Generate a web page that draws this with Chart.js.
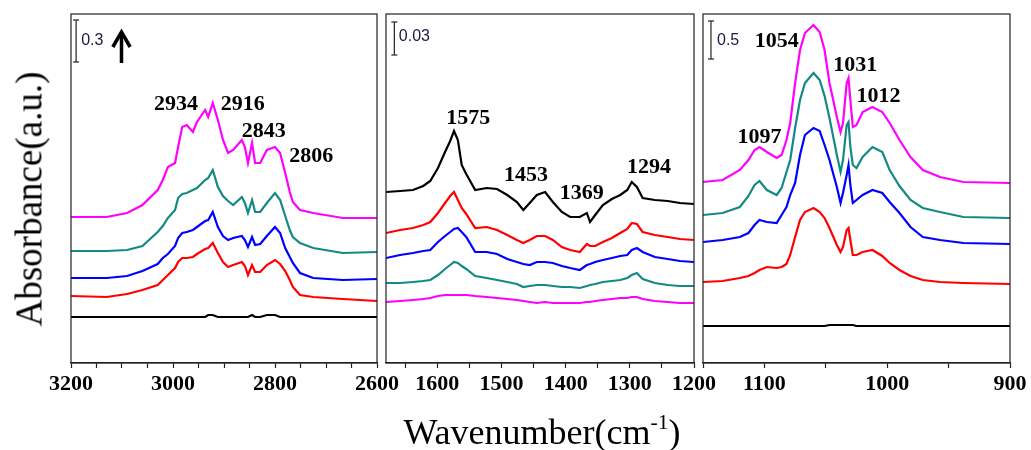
<!DOCTYPE html>
<html>
<head>
<meta charset="utf-8">
<script src="https://cdn.jsdelivr.net/npm/chart.js@4.4.1/dist/chart.umd.min.js"></script>
<style>
  html, body { margin: 0; padding: 0; background: #fff; }
  #wrap { position: relative; width: 1031px; height: 450px; overflow: hidden; }
  canvas { position: absolute; top: 0; }
  .ttl { position: absolute; font-family: 'Liberation Serif', 'Times New Roman', serif; color: #000; white-space: nowrap; line-height: 1; }
  #xt { left: 542px; top: 432px; font-size: 36px; transform: translate(-50%, -50%); }
  #xt sup { font-size: 60%; line-height: 0; vertical-align: 0.7em; }
  #yt { left: 29px; top: 199px; font-size: 37px; transform: translate(-50%, -50%) rotate(-90deg); }
</style>
</head>
<body>
<div id="wrap">
  <canvas id="c1" width="366" height="400" style="left:41px"></canvas>
  <canvas id="c2" width="368" height="400" style="left:356px"></canvas>
  <canvas id="c3" width="367" height="400" style="left:673px"></canvas>
  <div class="ttl" id="xt">Wavenumber(cm<sup>-1</sup>)</div>
  <div class="ttl" id="yt">Absorbance(a.u.)</div>
</div>
<script>
// --- data (absorbance, stacked, arbitrary units) ---------------------------
// panel 1: C-H stretch region
const W1 = [3200, 3130, 3090, 3060, 3030, 3020, 3010, 2996, 2990, 2982, 2973, 2961, 2953, 2937, 2931, 2922, 2912, 2902,
  2892, 2882, 2865, 2859, 2853, 2845, 2839, 2829, 2816, 2800, 2790, 2780, 2771, 2765, 2751, 2725, 2667, 2600];
const p1Magenta = [146, 146, 150, 158, 173, 183, 196, 200, 216, 236, 238, 231, 241, 253, 246, 260, 243, 223,
  210, 213, 223, 216, 200, 220, 200, 200, 213, 216, 210, 190, 171, 161, 153, 150, 145, 145];
const p1Teal = [112, 112, 113, 117, 131, 137, 145, 153, 165, 169, 170, 173, 175, 183, 185, 193, 176, 167,
  162, 158, 166, 160, 150, 163, 151, 151, 160, 170, 163, 147, 133, 126, 120, 115, 110, 111];
const p1Blue = [85, 85, 87, 92, 99, 105, 109, 117, 125, 130, 131, 133, 136, 142, 143, 151, 136, 127,
  123, 125, 127, 123, 116, 126, 118, 119, 127, 136, 130, 115, 106, 100, 90, 85, 83, 84];
const p1Red = [67, 66, 69, 73, 78, 83, 88, 95, 101, 105, 105, 106, 109, 114, 115, 120, 110, 101,
  96, 98, 101, 97, 88, 98, 91, 91, 98, 103, 99, 92, 83, 76, 68, 66, 64, 62];
const p1Black = [46, 46, 46, 46, 46, 46, 46, 46, 46, 46, 46, 46, 46, 46, 48, 48, 46, 46,
  46, 46, 46, 46, 46, 48, 46, 46, 48, 48, 46, 46, 46, 46, 46, 46, 46, 46];

// panel 2: 1680-1200 cm-1
const W2 = [1680, 1658, 1638, 1622, 1611, 1599, 1588, 1580, 1574, 1568, 1562, 1555, 1541, 1523, 1507, 1491, 1476, 1466, 1456, 1445,
  1432, 1420, 1406, 1393, 1378, 1367, 1362, 1354, 1342, 1328, 1315, 1304, 1297, 1289, 1280, 1261, 1241, 1222, 1200];
const p2Black = [171, 172, 173, 177, 182, 195, 211, 222, 232, 223, 198, 189, 173, 175, 174, 168, 161, 153, 160, 168,
  171, 161, 151, 146, 146, 150, 141, 148, 158, 164, 168, 173, 181, 176, 165, 163, 162, 160, 159];
const p2Red = [130, 133, 135, 138, 141, 150, 160, 167, 171, 163, 155, 149, 135, 136, 133, 128, 123, 120, 123, 127,
  127, 123, 116, 113, 111, 119, 117, 117, 121, 125, 130, 134, 140, 139, 131, 128, 126, 124, 123];
const p2Blue = [105, 108, 110, 112, 113, 121, 127, 131, 134, 135, 131, 126, 111, 111, 109, 104, 101, 99, 98, 101,
  101, 100, 97, 95, 93, 98, 99, 101, 103, 105, 107, 108, 113, 115, 111, 106, 104, 102, 101];
const p2Teal = [80, 80, 81, 82, 83, 88, 94, 98, 101, 100, 97, 94, 87, 85, 83, 81, 79, 76, 77, 78,
  78, 77, 76, 76, 75, 77, 78, 79, 81, 82, 83, 85, 88, 90, 84, 80, 78, 77, 77];
const p2Magenta = [61, 62, 63, 64, 65, 67, 68, 68, 68, 68, 68, 68, 67, 66, 65, 64, 63, 62, 61, 60,
  61, 60, 60, 60, 60, 61, 61, 62, 63, 64, 65, 65, 66, 66, 64, 62, 61, 60, 60];

// panel 3: 1150-900 cm-1
const W3 = [1150, 1134, 1120, 1113, 1108, 1104, 1098, 1090, 1086, 1082, 1079, 1075, 1071, 1067, 1060, 1055, 1051, 1047,
  1041, 1038, 1036, 1033, 1031.5, 1030, 1028, 1025, 1020, 1012, 1004, 998, 990, 981, 971, 957, 938, 900];
const p3Magenta = [181, 183, 193, 203, 213, 216, 211, 205, 208, 223, 240, 280, 313, 330, 338, 331, 313, 280,
  246, 231, 240, 280, 285, 263, 236, 238, 251, 256, 251, 240, 223, 206, 193, 186, 181, 180];
const p3Teal = [148, 150, 156, 167, 178, 182, 173, 168, 175, 191, 203, 235, 263, 280, 290, 283, 267, 245,
  208, 191, 203, 238, 241, 216, 198, 195, 206, 216, 211, 193, 177, 163, 155, 151, 146, 145];
const p3Blue = [121, 123, 126, 130, 138, 143, 141, 140, 148, 156, 168, 180, 208, 228, 235, 232, 218, 203,
  176, 160, 170, 188, 198, 178, 160, 163, 168, 173, 170, 161, 150, 136, 126, 123, 120, 119];
const p3Red = [81, 82, 85, 87, 90, 93, 96, 95, 96, 99, 108, 126, 143, 151, 155, 151, 145, 135,
  118, 111, 116, 133, 135, 123, 108, 108, 111, 113, 107, 100, 93, 87, 83, 81, 80, 79];
const p3Black = [37, 37, 37, 37, 37, 37, 37, 37, 37, 37, 37, 37, 37, 37, 37, 37, 37, 38,
  38, 38, 38, 38, 38, 38, 38, 37, 37, 37, 37, 37, 37, 37, 37, 37, 37, 37];

const C = { magenta: '#ff00ff', teal: '#138a84', blue: '#0000ff', red: '#ff0000', black: '#000000' };
const SERIF = "'Liberation Serif', 'Times New Roman', serif";
const PEAK_FONT = `bold 22px ${SERIF}`;
const BAR_FONT = "16px 'Liberation Sans', Arial, sans-serif";

// --- frame + text labels placed through the scales -------------------------
const framePlugin = {
  id: 'frame',
  afterDatasetsDraw(chart, args, opts) {
    const { ctx, chartArea: a, scales: { x, y } } = chart;
    ctx.save();
    ctx.strokeStyle = '#222';
    ctx.lineWidth = 1.2;
    ctx.strokeRect(a.left, a.top, a.right - a.left, a.bottom - a.top);
    (opts.labels || []).forEach((l) => {
      ctx.font = l.font;
      ctx.fillStyle = l.color || '#000';
      ctx.textAlign = l.align || 'center';
      ctx.textBaseline = 'middle';
      ctx.fillText(l.text, x.getPixelForValue(l.x), y.getPixelForValue(l.y));
    });
    ctx.restore();
  },
};

const pts = (xs, ys) => xs.map((w, i) => ({ x: w, y: ys[i] }));
const line = (xs, ys, color) => ({
  data: pts(xs, ys), borderColor: color, borderWidth: 2.2, pointRadius: 0, tension: 0, fill: false,
});
const scaleBar = (x, y0, y1) => ({
  data: [{ x, y: y0 }, { x, y: y1 }], borderColor: '#222', borderWidth: 1.2,
  pointStyle: 'line', pointRadius: 3, pointBorderWidth: 1.2, pointBorderColor: '#222',
});

function panel(id, min, max, datasets, labels) {
  return new Chart(document.getElementById(id), {
    type: 'line',
    data: { datasets },
    plugins: [framePlugin],
    options: {
      responsive: false, animation: false, events: [],
      layout: { padding: { left: 30, right: 30, top: 14, bottom: 0 } },
      plugins: { legend: { display: false }, tooltip: { enabled: false }, frame: { labels } },
      scales: {
        x: {
          type: 'linear', min, max, reverse: true,
          afterFit: (s) => { s.height = 37; },
          border: { display: true, color: '#222', width: 1.2 },
          grid: { drawOnChartArea: false, drawTicks: true, tickLength: 5, color: '#222', tickWidth: 1.2 },
          ticks: {
            stepSize: 50, includeBounds: false, autoSkip: false, maxRotation: 0, padding: 3, color: '#000',
            font: { family: SERIF, size: 22, weight: 'bold' },
            callback: (v) => (v % (max - min > 500 ? 200 : 100) === 0 ? v : ''),
          },
        },
        y: { type: 'linear', min: 0, max: 349, display: false },
      },
    },
  });
}

panel('c1', 2600, 3200, [
  line(W1, p1Black, C.black), line(W1, p1Red, C.red), line(W1, p1Blue, C.blue),
  line(W1, p1Teal, C.teal), line(W1, p1Magenta, C.magenta),
  scaleBar(3190, 301, 343),
  { data: [{ x: 3101, y: 300 }, { x: 3101, y: 329 }], borderColor: '#000', borderWidth: 3.5, pointRadius: 0 },
  { data: [{ x: 3118, y: 316 }, { x: 3101, y: 331 }, { x: 3084, y: 316 }], borderColor: '#000', borderWidth: 3.5,
    borderJoinStyle: 'miter', pointRadius: 0 },
], [
  { text: '0.3', x: 3180, y: 322, font: BAR_FONT, align: 'left', color: '#1a1a40' },
  { text: '2934', x: 2994, y: 259, font: PEAK_FONT },
  { text: '2916', x: 2863, y: 259, font: PEAK_FONT },
  { text: '2843', x: 2822, y: 232, font: PEAK_FONT },
  { text: '2806', x: 2729, y: 207, font: PEAK_FONT },
]);

panel('c2', 1200, 1680, [
  line(W2, p2Magenta, C.magenta), line(W2, p2Teal, C.teal), line(W2, p2Blue, C.blue),
  line(W2, p2Red, C.red), line(W2, p2Black, C.black),
  scaleBar(1667, 308, 341),
], [
  { text: '0.03', x: 1660, y: 326, font: BAR_FONT, align: 'left', color: '#1a1a40' },
  { text: '1575', x: 1552, y: 245, font: PEAK_FONT },
  { text: '1453', x: 1462, y: 188, font: PEAK_FONT },
  { text: '1369', x: 1375, y: 170, font: PEAK_FONT },
  { text: '1294', x: 1270, y: 196, font: PEAK_FONT },
]);

panel('c3', 900, 1150, [
  line(W3, p3Black, C.black), line(W3, p3Red, C.red), line(W3, p3Blue, C.blue),
  line(W3, p3Teal, C.teal), line(W3, p3Magenta, C.magenta),
  scaleBar(1143.5, 304, 342),
], [
  { text: '0.5', x: 1138.6, y: 322, font: BAR_FONT, align: 'left', color: '#1a1a40' },
  { text: '1054', x: 1090, y: 322, font: PEAK_FONT },
  { text: '1031', x: 1026, y: 298, font: PEAK_FONT },
  { text: '1012', x: 1007, y: 267, font: PEAK_FONT },
  { text: '1097', x: 1104, y: 226, font: PEAK_FONT },
]);
</script>
</body>
</html>
